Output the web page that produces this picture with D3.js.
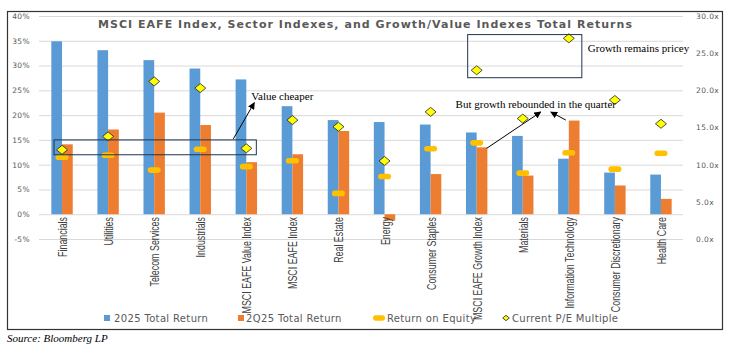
<!DOCTYPE html>
<html>
<head>
<meta charset="utf-8">
<script src="https://cdn.jsdelivr.net/npm/d3@7"></script>
<style>
  body { margin: 0; background: #fff; }
  svg { display: block; }
</style>
</head>
<body>
<div id="chart-area"></div>
<script>
// Data ///////////////////////////////////////
var categories = ["Financials", "Utilities", "Telecom Services", "Industrials",
  "MSCI EAFE Value Index", "MSCI EAFE Index", "Real Estate", "Energy",
  "Consumer Staples", "MSCI EAFE Growth Index", "Materials",
  "Information Technology", "Consumer Discretionary", "Health Care"];
var totalReturn2025 = [34.9, 33.1, 31.1, 29.4, 27.2, 21.8, 19.0, 18.6, 18.1, 16.5, 15.8, 11.2, 8.4, 8.0];
var totalReturn2Q25 = [14.1, 17.1, 20.5, 18.0, 10.5, 12.1, 16.8, -1.3, 8.1, 13.5, 7.8, 18.9, 5.8, 3.1];
var returnOnEquity = [11.5, 11.9, 8.9, 13.1, 9.6, 10.8, 4.2, 7.6, 13.2, 14.4, 8.3, 12.4, 9.1, 12.3];
var peMultiple = [12.0, 13.8, 21.2, 20.3, 12.2, 16.0, 15.1, 10.5, 17.1, 22.7, 16.2, 27.0, 18.7, 15.5];
var leftTicks = [-5, 0, 5, 10, 15, 20, 25, 30, 35, 40];
var rightTicks = [0, 5, 10, 15, 20, 25, 30];

var title = "MSCI EAFE Index, Sector Indexes, and Growth/Value Indexes Total Returns";

// Chart config ///////////////////////////////
var W = 731, H = 353;
var blue = "#5b9bd5", orange = "#ed7d31", gold = "#ffc000";

var svg = d3.select("#chart-area").append("svg")
  .attr("width", W).attr("height", H);

var x = d3.scaleBand().domain(categories).range([39, 684]);
var yL = d3.scaleLinear().domain([-5, 40]).range([239, 16]);
var yR = d3.scaleLinear().domain([0, 30]).range([239, 16]);
var barW = 10.7;

// outer frame
svg.append("rect")
  .attr("x", 7.5).attr("y", 11.5).attr("width", 715).attr("height", 318)
  .attr("fill", "none").attr("stroke", "#333").attr("stroke-width", 1.2);

// grid + left axis
var leftAxis = svg.append("g")
  .attr("transform", "translate(39,0)")
  .call(d3.axisLeft(yL).tickValues(leftTicks).tickSize(-644).tickPadding(9)
    .tickFormat(function(d) { return d + "%"; }));
leftAxis.select(".domain").remove();
leftAxis.selectAll("line").attr("stroke", "#d9d9d9");
leftAxis.selectAll("text").attr("fill", "#595959")
  .style("font-family", "DejaVu Sans").style("font-size", "7.5px").style("letter-spacing", "0.4px");

// right axis
var rightAxis = svg.append("g")
  .attr("transform", "translate(684,0)")
  .call(d3.axisRight(yR).tickValues(rightTicks).tickSize(0).tickPadding(12)
    .tickFormat(function(d) { return d3.format(".1f")(d) + "x"; }));
rightAxis.select(".domain").remove();
rightAxis.selectAll("text").attr("fill", "#595959")
  .style("font-family", "DejaVu Sans").style("font-size", "7.5px").style("letter-spacing", "0.4px");

// title
svg.append("text")
  .attr("x", 365).attr("y", 28).attr("text-anchor", "middle")
  .attr("fill", "#595959")
  .style("font-family", "DejaVu Sans").style("font-weight", "bold").style("font-size", "11px")
  .attr("textLength", 534).attr("lengthAdjust", "spacing")
  .text(title);

// bars
function cx(d) { return x(d) + x.bandwidth() / 2; }

svg.append("g").selectAll("rect").data(categories).enter().append("rect")
  .attr("x", function(d) { return cx(d) - barW; })
  .attr("width", barW)
  .attr("y", function(d, i) { return yL(Math.max(0, totalReturn2025[i])); })
  .attr("height", function(d, i) { return Math.abs(yL(totalReturn2025[i]) - yL(0)); })
  .attr("fill", blue);

svg.append("g").selectAll("rect").data(categories).enter().append("rect")
  .attr("x", function(d) { return cx(d); })
  .attr("width", barW)
  .attr("y", function(d, i) { return yL(Math.max(0, totalReturn2Q25[i])); })
  .attr("height", function(d, i) { return Math.abs(yL(totalReturn2Q25[i]) - yL(0)); })
  .attr("fill", orange);

// return on equity dashes
svg.append("g").selectAll("rect").data(categories).enter().append("rect")
  .attr("x", function(d) { return cx(d) - 6.5; })
  .attr("y", function(d, i) { return yL(returnOnEquity[i]) - 2.8; })
  .attr("width", 13).attr("height", 5.6).attr("rx", 2.8)
  .attr("fill", gold);

// P/E diamonds
function diamond(px, py, s) {
  s = s || 1;
  return "M" + (px - 5.5 * s) + "," + py + "L" + px + "," + (py - 4.5 * s) +
    "L" + (px + 5.5 * s) + "," + py + "L" + px + "," + (py + 4.5 * s) + "Z";
}
svg.append("g").selectAll("path").data(categories).enter().append("path")
  .attr("d", function(d, i) { return diamond(cx(d), yR(peMultiple[i])); })
  .attr("fill", "#ffff00").attr("stroke", "#222").attr("stroke-width", 0.8);

// category labels (condensed)
svg.append("g").selectAll("text").data(categories).enter().append("text")
  .attr("transform", function(d) { return "translate(" + (cx(d) + 5) + ",217) rotate(-90) scale(0.74,1)"; })
  .attr("text-anchor", "end")
  .attr("fill", "#404040")
  .style("font-family", "Liberation Sans, Arial, sans-serif")
  .style("font-size", "12px")
  .text(function(d) { return d; });

// annotations
var defs = svg.append("defs");
defs.append("marker").attr("id", "arr")
  .attr("viewBox", "0 0 10 10").attr("refX", 9).attr("refY", 5)
  .attr("markerWidth", 7).attr("markerHeight", 7).attr("orient", "auto")
  .append("path").attr("d", "M0,0L10,5L0,10Z").attr("fill", "#000");

var serif = "Liberation Serif, Times New Roman, serif";

// value box
svg.append("rect")
  .attr("x", cx("Financials") - 8).attr("y", yL(15))
  .attr("width", cx("MSCI EAFE Value Index") + 10 - (cx("Financials") - 8))
  .attr("height", yL(12) - yL(15))
  .attr("fill", "none").attr("stroke", "#1f3550").attr("stroke-width", 1);
svg.append("line")
  .attr("x1", cx("MSCI EAFE Value Index") - 13).attr("y1", yL(15.2))
  .attr("x2", cx("MSCI EAFE Value Index") + 8).attr("y2", yL(22.5))
  .attr("stroke", "#000").attr("stroke-width", 1).attr("marker-end", "url(#arr)");
svg.append("text")
  .attr("x", cx("MSCI EAFE Value Index") + 5).attr("y", 100)
  .style("font-family", serif).style("font-size", "11px")
  .text("Value cheaper");

// growth box
svg.append("rect")
  .attr("x", cx("MSCI EAFE Growth Index") - 9).attr("y", yR(27.5))
  .attr("width", cx("Information Technology") + 13 - (cx("MSCI EAFE Growth Index") - 9))
  .attr("height", yR(21.7) - yR(27.5))
  .attr("fill", "none").attr("stroke", "#1f3550").attr("stroke-width", 1);
svg.append("text")
  .attr("x", cx("Information Technology") + 19).attr("y", 52)
  .style("font-family", serif).style("font-size", "11px")
  .text("Growth remains pricey");

svg.append("text")
  .attr("x", cx("Consumer Staples") + 25).attr("y", 108)
  .style("font-family", serif).style("font-size", "11px")
  .text("But growth rebounded in the quarter");
svg.append("line")
  .attr("x1", cx("MSCI EAFE Growth Index") + 10).attr("y1", yL(13.3))
  .attr("x2", cx("Materials") + 18).attr("y2", 112)
  .attr("stroke", "#000").attr("stroke-width", 1).attr("marker-end", "url(#arr)");
svg.append("line")
  .attr("x1", cx("Information Technology") - 3).attr("y1", yL(19.0))
  .attr("x2", cx("Information Technology") - 18).attr("y2", 112)
  .attr("stroke", "#000").attr("stroke-width", 1).attr("marker-end", "url(#arr)");

// legend
var legendFont = function(sel) {
  sel.attr("fill", "#595959").style("font-family", "DejaVu Sans")
    .style("font-size", "10px").style("letter-spacing", "0.35px");
};
var lg = svg.append("g");
lg.append("rect").attr("x", 104).attr("y", 315).attr("width", 6).attr("height", 6).attr("fill", blue);
lg.append("text").attr("x", 114).attr("y", 321.8).call(legendFont).text("2025 Total Return");
lg.append("rect").attr("x", 238).attr("y", 315).attr("width", 6).attr("height", 6).attr("fill", orange);
lg.append("text").attr("x", 246).attr("y", 321.8).call(legendFont).text("2Q25 Total Return");
lg.append("rect").attr("x", 373).attr("y", 315.2).attr("width", 12).attr("height", 5.6).attr("rx", 2.8).attr("fill", gold);
lg.append("text").attr("x", 387).attr("y", 321.8).call(legendFont).text("Return on Equity");
lg.append("path").attr("d", diamond(506, 318, 0.6))
  .attr("fill", "#ffff00").attr("stroke", "#222").attr("stroke-width", 0.8);
lg.append("text").attr("x", 512).attr("y", 321.8).call(legendFont).text("Current P/E Multiple");

// source
svg.append("text")
  .attr("x", 7).attr("y", 342)
  .style("font-family", serif).style("font-style", "italic").style("font-size", "11px")
  .text("Source: Bloomberg LP");
</script>
</body>
</html>
